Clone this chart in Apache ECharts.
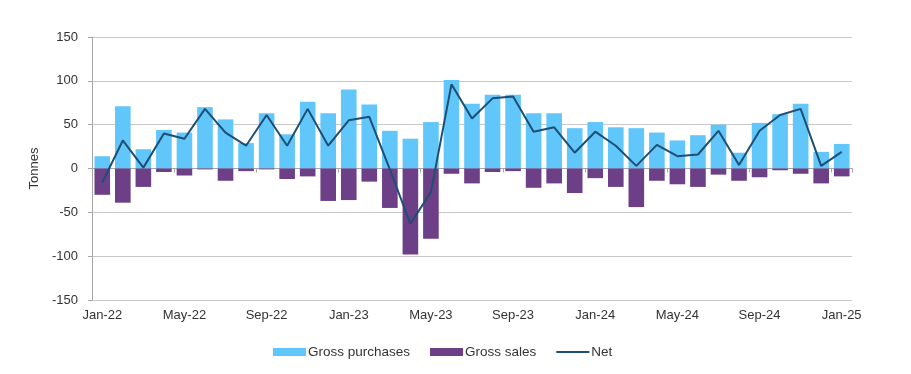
<!DOCTYPE html>
<html>
<head>
<meta charset="utf-8">
<script src="https://cdn.jsdelivr.net/npm/echarts@6/dist/echarts.min.js"></script>
<style>html,body{margin:0;padding:0;background:#fff}#c{width:911px;height:374px}</style>
</head>
<body>
<div id="c"></div>
<script>
const months = ['Jan-22','Feb-22','Mar-22','Apr-22','May-22','Jun-22','Jul-22','Aug-22','Sep-22','Oct-22','Nov-22','Dec-22',
'Jan-23','Feb-23','Mar-23','Apr-23','May-23','Jun-23','Jul-23','Aug-23','Sep-23','Oct-23','Nov-23','Dec-23',
'Jan-24','Feb-24','Mar-24','Apr-24','May-24','Jun-24','Jul-24','Aug-24','Sep-24','Oct-24','Nov-24','Dec-24','Jan-25'];
const grossPurchases = [14,71,22,44,41,70,56,29,63,39,76,63, 90,73,43,34,53,101,74,84,84,63,63,46, 53,47,46,41,32,38,50,18,52,62,74,19,28];
const grossSales = [-30,-39,-21,-4,-8,-1,-14,-3,-1,-12,-9,-37, -36,-15,-45,-98,-80,-6,-17,-4,-3,-22,-17,-28, -11,-21,-44,-14,-18,-21,-7,-14,-10,-2,-6,-17,-9];
const net = [-16,32,1,40,34,68,41,26,61,26,68,26, 55,59,-1,-63,-27,96,57,80,82,42,47,18, 42,26,3,27,14,16,43,4,43,61,68,3,19];
const yTicks = {min:-150, max:150, step:50};

const chart = echarts.init(document.getElementById('c'), null, {renderer:'canvas'});
const font = 'Liberation Sans, Arial, Helvetica, sans-serif';
chart.setOption({
  animation:false,
  textStyle:{fontFamily:font},
  grid:{left:92, right:59, top:37, bottom:74},
  legend:{
    bottom:10, left:268, itemWidth:33, itemHeight:8, itemGap:20,
    textStyle:{fontSize:13.5, color:'#333', fontFamily:font, padding:[0,0,0,-3]},
    data:[{name:'Gross purchases', icon:'rect'},{name:'Gross sales', icon:'rect'},
          {name:'Net', icon:'path://M0,0 H33 V2 H0 Z'}]
  },
  xAxis:[{
    type:'category', data:months, boundaryGap:true,
    axisLine:{onZero:true, lineStyle:{color:'#A6A6A6', width:1}},
    axisTick:{show:true, interval:3, length:4, lineStyle:{color:'#A6A6A6'}},
    axisLabel:{show:false}, splitLine:{show:false}
  },{
    type:'category', data:months, boundaryGap:true, position:'bottom',
    axisLine:{show:false, onZero:false}, axisTick:{show:false},
    axisLabel:{interval:3, fontSize:13, color:'#333', margin:9, fontFamily:font},
    splitLine:{show:false}
  }],
  yAxis:{
    type:'value', min:yTicks.min, max:yTicks.max, interval:yTicks.step,
    name:'Tonnes', nameLocation:'middle', nameGap:42, nameRotate:90,
    nameTextStyle:{fontSize:13, color:'#333', fontFamily:font},
    axisLine:{show:true, lineStyle:{color:'#A6A6A6'}},
    axisTick:{show:true, length:4, lineStyle:{color:'#A6A6A6'}},
    axisLabel:{fontSize:13, color:'#333', margin:14, fontFamily:font},
    splitLine:{lineStyle:{color:'#C8C8C8', width:1}}
  },
  series:[
    {name:'Gross purchases', type:'bar', stack:'g', data:grossPurchases, barWidth:'76%', itemStyle:{color:'#61C7FA'}},
    {name:'Gross sales', type:'bar', stack:'g', data:grossSales, barWidth:'76%', itemStyle:{color:'#6C3F86'}},
    {name:'Net', type:'line', data:net, symbol:'none', lineStyle:{color:'#1E4E73', width:2}, itemStyle:{color:'#1E4E73'}, z:5}
  ]
});
</script>
</body>
</html>
